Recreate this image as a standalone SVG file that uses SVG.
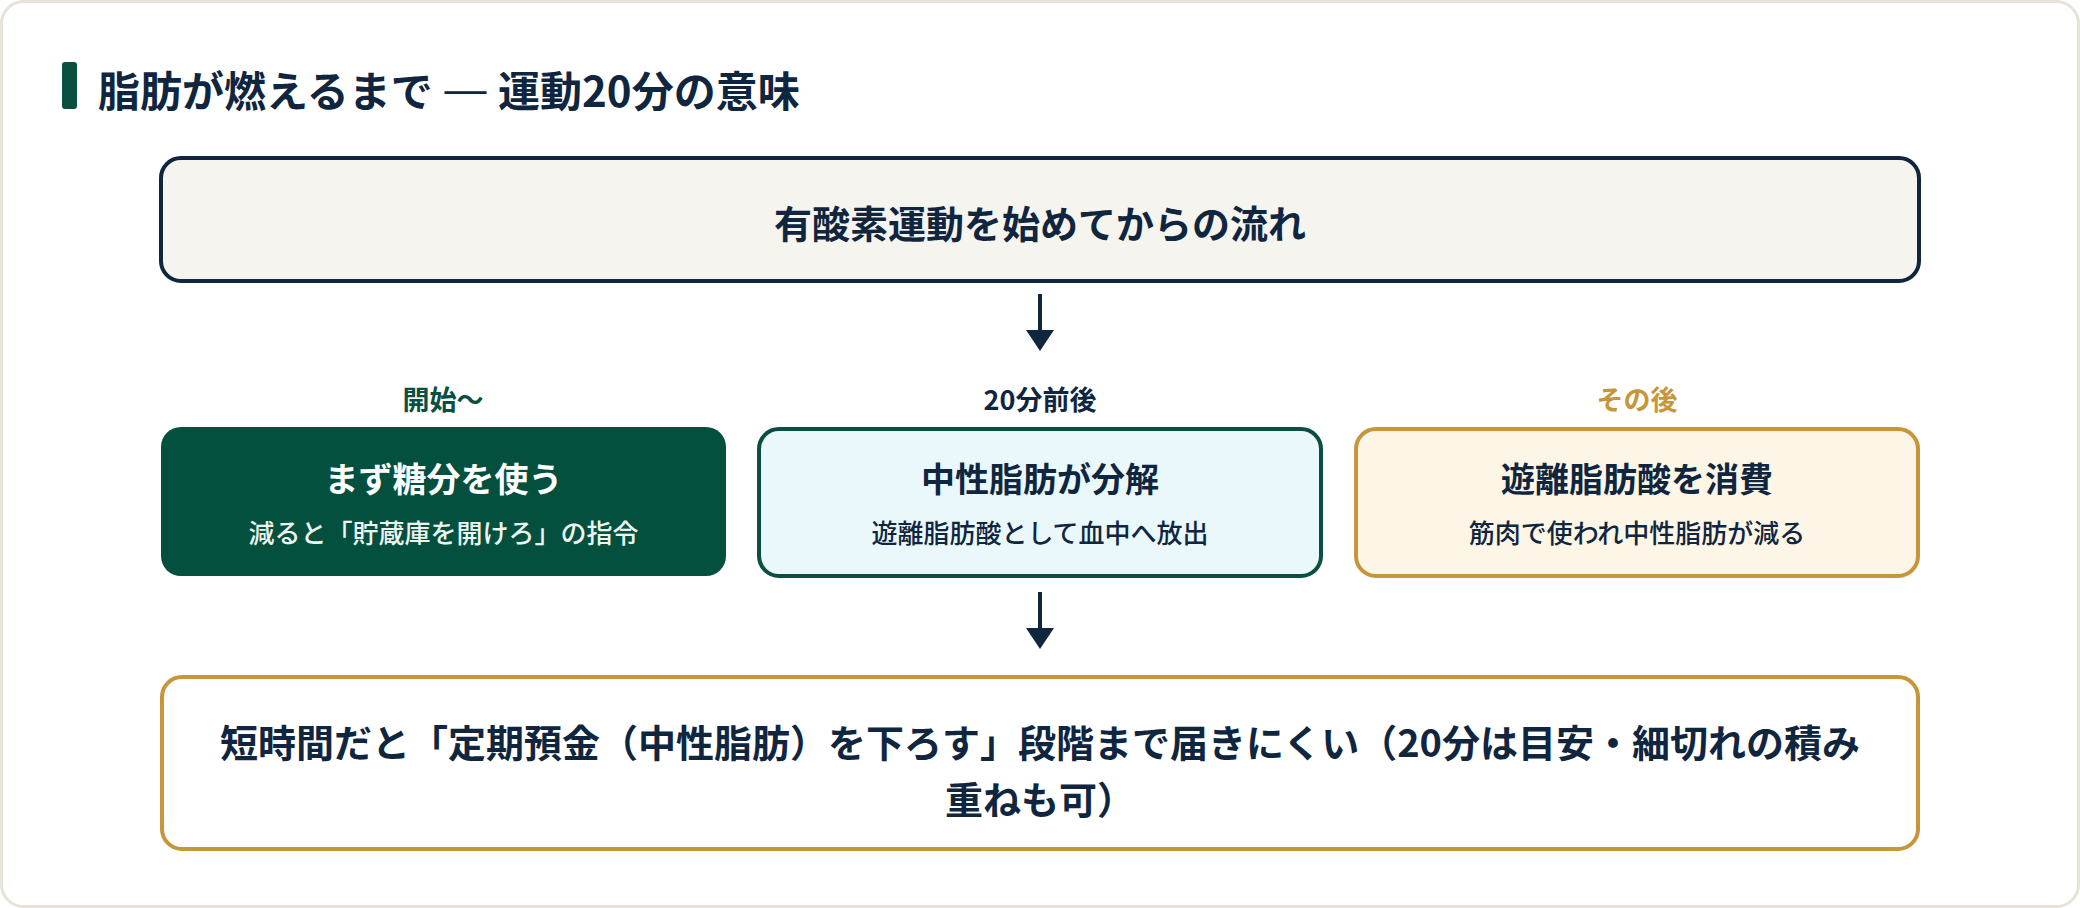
<svg xmlns="http://www.w3.org/2000/svg" width="2080" height="908" viewBox="0 0 2080 908">
<defs>
<style>
text{font-family:"Noto Sans CJK JP","Noto Sans",sans-serif;text-anchor:middle;dominant-baseline:central}
.navy{fill:#10263f}
.b{font-weight:700}
.m{font-weight:500}
.conn line{stroke:#10263f;stroke-width:4}
.conn polygon{fill:#10263f}
</style>
</defs>
<rect x="0" y="0" width="2080" height="908" fill="#ffffff"/>
<rect id="card" x="1.5" y="1.5" width="2077" height="905" rx="22" fill="#ffffff" stroke="#e6e3d8" stroke-width="3"/>
<g id="title">
<rect x="62" y="62" width="15" height="47" rx="3" fill="#0a4f3f"/>
<text x="98" y="88" class="navy b" font-size="42" style="text-anchor:start">脂肪が燃えるまで<tspan font-family="Liberation Sans, sans-serif" font-weight="400"> — </tspan>運動20分の意味</text>
</g>
<g id="node-start">
<rect x="161" y="158" width="1758" height="123" rx="20" fill="#f5f4ef" stroke="#10263f" stroke-width="4"/>
<text x="1040" y="221" class="navy b" font-size="38">有酸素運動を始めてからの流れ</text>
</g>
<g class="conn" id="connectors">
<line x1="1040" y1="294" x2="1040" y2="332"/>
<polygon points="1026,330 1054,330 1040,351"/>
<line x1="1040" y1="592" x2="1040" y2="630"/>
<polygon points="1026,628 1054,628 1040,649"/>
</g>
<g id="label-1"><text x="443" y="398" class="b" font-size="27" fill="#0a4f3f">開始〜</text></g>
<g id="label-2"><text x="1040" y="398" class="navy b" font-size="27">20分前後</text></g>
<g id="label-3"><text x="1637" y="398" class="b" font-size="27" fill="#c7963a">その後</text></g>
<g id="node-sugar">
<rect x="161" y="427" width="565" height="149" rx="20" fill="#04503f"/>
<text x="443.5" y="477" class="b" font-size="34" fill="#ffffff">まず糖分を使う</text>
<text x="443.5" y="531" class="m" font-size="26" fill="#eef4f0">減ると「貯蔵庫を開けろ」の指令</text>
</g>
<g id="node-breakdown">
<rect x="759" y="429" width="562" height="147" rx="20" fill="#eaf8fc" stroke="#0a4f3f" stroke-width="4"/>
<text x="1040" y="477" class="navy b" font-size="34">中性脂肪が分解</text>
<text x="1040" y="531" class="navy m" font-size="26">遊離脂肪酸として血中へ放出</text>
</g>
<g id="node-consume">
<rect x="1356" y="429" width="562" height="147" rx="20" fill="#fdf5e5" stroke="#c7963a" stroke-width="4"/>
<text x="1637" y="477" class="navy b" font-size="34">遊離脂肪酸を消費</text>
<text x="1637" y="531" class="navy m" font-size="26">筋肉で使われ中性脂肪が減る</text>
</g>
<g id="node-note">
<rect x="162" y="677" width="1756" height="172" rx="20" fill="#ffffff" stroke="#c7963a" stroke-width="4"/>
<text x="1040" y="740" class="navy b" font-size="38">短時間だと「定期預金（中性脂肪）を下ろす」段階まで届きにくい（20分は目安・細切れの積み</text>
<text x="1040" y="797" class="navy b" font-size="38">重ねも可）</text>
</g>
</svg>
